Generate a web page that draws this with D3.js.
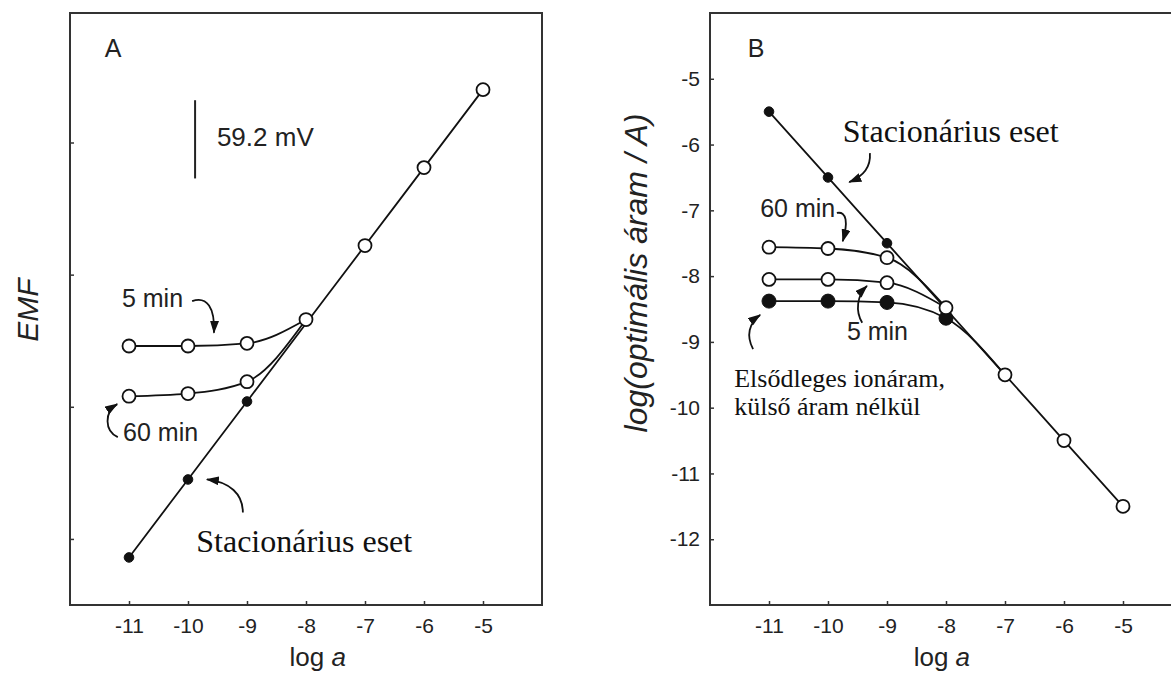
<!DOCTYPE html>
<html>
<head>
<meta charset="utf-8">
<script src="https://cdn.jsdelivr.net/npm/d3@7"></script>
<style>
  body { margin: 0; background: #fff; }
  svg { display: block; }
  .sans { font-family: "Liberation Sans", Arial, sans-serif; fill: #222; }
  .serif { font-family: "Liberation Serif", "Times New Roman", serif; fill: #111; }
  .tick text { font-family: "Liberation Sans", Arial, sans-serif; font-size: 21px; fill: #222; }
  .tick line { stroke: #333; stroke-width: 1.5; }
</style>
</head>
<body>
<div id="chart"></div>
<script>
// x values (log a) shared by both panels
const logA = [-11, -10, -9, -8, -7, -6, -5];

// Panel A: EMF in mV (arbitrary zero), ticks every 100 mV, unlabeled
const emfTicks = [0, 100, 200, 300];
const emfStationary = [-14, 45, 104, 163, 222, 281, 340];
const emf5min = [146, 146, 148, 166];      // -11 .. -8
const emf60min = [108, 110, 119, 166];     // -11 .. -8
const emfOpenTail = [166, 222, 281, 340];  // open circles -8 .. -5

// Panel B: log(optimal current / A)
const curTicks = [-5, -6, -7, -8, -9, -10, -11, -12];
const curStationary = [-5.5, -6.5, -7.5, -8.5, -9.5, -10.5, -11.5];
const cur60min = [-7.56, -7.58, -7.72, -8.48];   // -11 .. -8
const cur5min = [-8.05, -8.05, -8.1, -8.48];     // -11 .. -8
const curPrimary = [-8.38, -8.38, -8.4, -8.64, -9.5]; // -11 .. -7
const curOpenTail = [-8.48, -9.5, -10.5, -11.5]; // open circles -8 .. -5

const width = 1171, height = 673;

const svg = d3.select("#chart")
  .append("svg")
  .attr("width", width)
  .attr("height", height);

svg.append("rect").attr("width", width).attr("height", height).attr("fill", "#fff");

svg.append("defs").append("marker")
  .attr("id", "arrow")
  .attr("viewBox", "0 0 13 9")
  .attr("refX", 12).attr("refY", 4.5)
  .attr("markerWidth", 13).attr("markerHeight", 9)
  .attr("markerUnits", "userSpaceOnUse")
  .attr("orient", "auto")
  .append("path")
  .attr("d", "M0,0 L13,4.5 L0,9 Z")
  .attr("fill", "#111");

const xA = d3.scaleLinear([-12, -4], [70, 542]);
const yA = d3.scaleLinear([-50, 398], [605, 13]);
const xB = d3.scaleLinear([-12, -4], [710, 1182]);
const yB = d3.scaleLinear([-13, -4], [605, 13]);

const line = (x, y) => d3.line()
  .x(d => x(d[0]))
  .y(d => y(d[1]))
  .curve(d3.curveMonotoneX);

const pairs = (xs, ys) => ys.map((v, i) => [xs[i], v]);

// plain hyphen like the original figure, not the unicode minus
const hyphen = d => String(d);

// draws a curved annotation arrow from 4 points given in data units
function arrow(g, x, y, pts) {
  const p = d3.path();
  p.moveTo(x(pts[0][0]), y(pts[0][1]));
  p.bezierCurveTo(x(pts[1][0]), y(pts[1][1]), x(pts[2][0]), y(pts[2][1]), x(pts[3][0]), y(pts[3][1]));
  g.append("path")
    .attr("d", p.toString())
    .attr("fill", "none")
    .attr("stroke", "#111")
    .attr("stroke-width", 1.8)
    .attr("marker-end", "url(#arrow)");
}

function dots(g, x, y, data, r, filled) {
  g.selectAll(null)
    .data(data)
    .join("circle")
    .attr("cx", d => x(d[0]))
    .attr("cy", d => y(d[1]))
    .attr("r", r)
    .attr("fill", filled ? "#111" : "#fff")
    .attr("stroke", "#111")
    .attr("stroke-width", filled ? 1 : 1.8);
}

function frame(g, x, y, ticksY, labelY, titleX) {
  g.append("g")
    .attr("transform", `translate(0,${y.range()[0]})`)
    .call(d3.axisBottom(x).tickValues(logA).tickSize(-4).tickSizeOuter(0).tickPadding(13).tickFormat(hyphen))
    .call(a => a.select(".domain").remove());
  g.append("g")
    .attr("transform", `translate(${x.range()[0]},0)`)
    .call(d3.axisLeft(y).tickValues(ticksY).tickSize(-4).tickSizeOuter(0).tickPadding(10)
      .tickFormat(labelY ? hyphen : ""))
    .call(a => a.select(".domain").remove());
  g.append("rect")
    .attr("x", x.range()[0]).attr("y", y.range()[1])
    .attr("width", x.range()[1] - x.range()[0])
    .attr("height", y.range()[0] - y.range()[1])
    .attr("fill", "none")
    .attr("stroke", "#333")
    .attr("stroke-width", 2);
  g.append("text")
    .attr("class", "sans")
    .attr("x", x(titleX))
    .attr("y", 666)
    .attr("text-anchor", "middle")
    .attr("font-size", 26)
    .text("log ")
    .append("tspan").attr("font-style", "italic").text("a");
}

// ---------- Panel A ----------
const gA = svg.append("g");
frame(gA, xA, yA, emfTicks, false, -7.8);

gA.append("text").attr("class", "sans")
  .attr("transform", "translate(38,310) rotate(-90)")
  .attr("text-anchor", "middle")
  .attr("font-size", 30).attr("font-style", "italic")
  .text("EMF");

const stA = pairs(logA, emfStationary);
const m5A = pairs(logA, emf5min);
const m60A = pairs(logA, emf60min);
[stA, m5A, m60A].forEach(d => gA.append("path")
  .attr("d", line(xA, yA)(d))
  .attr("fill", "none").attr("stroke", "#111").attr("stroke-width", 1.8));

dots(gA, xA, yA, stA.slice(0, 3), 4.8, true);
dots(gA, xA, yA, m5A.slice(0, 3), 6.5, false);
dots(gA, xA, yA, m60A.slice(0, 3), 6.5, false);
dots(gA, xA, yA, pairs(logA.slice(3), emfOpenTail), 6.5, false);

// 59.2 mV scale bar
gA.append("line")
  .attr("x1", xA(-9.88)).attr("x2", xA(-9.88))
  .attr("y1", yA(332)).attr("y2", yA(332 - 59.2))
  .attr("stroke", "#222").attr("stroke-width", 2);
gA.append("text").attr("class", "sans")
  .attr("x", xA(-9.51)).attr("y", yA(297))
  .attr("font-size", 26).text("59.2 mV");

gA.append("text").attr("class", "sans")
  .attr("x", xA(-11.41)).attr("y", yA(365))
  .attr("font-size", 25).text("A");

gA.append("text").attr("class", "sans")
  .attr("x", xA(-11.12)).attr("y", yA(175.5))
  .attr("font-size", 25).text("5 min");
arrow(gA, xA, yA, [[-9.93, 180], [-9.68, 184], [-9.54, 175], [-9.56, 156]]);

gA.append("text").attr("class", "sans")
  .attr("x", xA(-11.1)).attr("y", yA(74))
  .attr("font-size", 25).text("60 min");
arrow(gA, xA, yA, [[-11.19, 77], [-11.42, 82], [-11.42, 96], [-11.2, 102]]);

gA.append("text").attr("class", "serif")
  .attr("x", xA(-9.86)).attr("y", yA(-10))
  .attr("font-size", 32).text("Stacionárius eset");
arrow(gA, xA, yA, [[-9.07, 20], [-9.07, 34], [-9.29, 43], [-9.68, 45]]);

// ---------- Panel B ----------
const gB = svg.append("g");
frame(gB, xB, yB, curTicks, true, -8.07);

gB.append("text").attr("class", "sans")
  .attr("transform", "translate(647,273) rotate(-90)")
  .attr("text-anchor", "middle")
  .attr("font-size", 32).attr("font-style", "italic")
  .text("log(optimális áram / A)");

const stB = pairs(logA, curStationary);
const m60B = pairs(logA, cur60min);
const m5B = pairs(logA, cur5min);
const prB = pairs(logA, curPrimary);
[stB, m60B, m5B, prB].forEach(d => gB.append("path")
  .attr("d", line(xB, yB)(d))
  .attr("fill", "none").attr("stroke", "#111").attr("stroke-width", 1.8));

dots(gB, xB, yB, stB.slice(0, 3), 4.8, true);
dots(gB, xB, yB, prB.slice(0, 4), 7, true);
dots(gB, xB, yB, m60B.slice(0, 3), 6.5, false);
dots(gB, xB, yB, m5B.slice(0, 3), 6.5, false);
dots(gB, xB, yB, pairs(logA.slice(3), curOpenTail), 6.5, false);

gB.append("text").attr("class", "sans")
  .attr("x", xB(-11.36)).attr("y", yB(-4.67))
  .attr("font-size", 25).text("B");

gB.append("text").attr("class", "serif")
  .attr("x", xB(-9.75)).attr("y", yB(-5.96))
  .attr("font-size", 32).text("Stacionárius eset");
arrow(gB, xB, yB, [[-9.29, -6.13], [-9.27, -6.36], [-9.42, -6.49], [-9.64, -6.57]]);

gB.append("text").attr("class", "sans")
  .attr("x", xB(-11.15)).attr("y", yB(-7.1))
  .attr("font-size", 25).text("60 min");
arrow(gB, xB, yB, [[-9.85, -7.04], [-9.68, -7.01], [-9.66, -7.19], [-9.75, -7.47]]);

gB.append("text").attr("class", "sans")
  .attr("x", xB(-9.68)).attr("y", yB(-8.97))
  .attr("font-size", 25).text("5 min");
arrow(gB, xB, yB, [[-9.42, -8.71], [-9.54, -8.53], [-9.51, -8.3], [-9.34, -8.15]]);

arrow(gB, xB, yB, [[-11.27, -9.11], [-11.39, -8.91], [-11.34, -8.71], [-11.15, -8.59]]);
gB.append("text").attr("class", "serif")
  .attr("x", xB(-11.59)).attr("y", yB(-9.69))
  .attr("font-size", 26).text("Elsődleges ionáram,");
gB.append("text").attr("class", "serif")
  .attr("x", xB(-11.59)).attr("y", yB(-10.11))
  .attr("font-size", 26).text("külső áram nélkül");
</script>
</body>
</html>
